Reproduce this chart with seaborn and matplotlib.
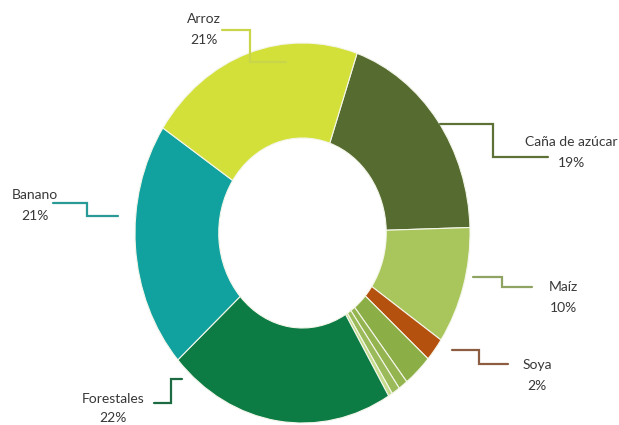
import matplotlib.pyplot as plt
import seaborn as sns

# --- Données ---
cultivos = ["Caña de azúcar", "Maíz", "Soya", "Otro 1", "Otro 2", "Otro 3", "Otro 4",
            "Forestales", "Banano", "Arroz"]
porcentajes = [19.3, 10, 2, 2.8, 0.9, 0.8, 0.4, 22, 21, 21]
colores = ["#566b30", "#a9c65c", "#b4510f", "#8cae47", "#93b44f", "#9bba59", "#c4dc8c",
           "#0c7b44", "#11a2a0", "#d4e03a"]
etiquetas = ["Arroz", "Caña de azúcar", "Banano", "Maíz", "Soya", "Forestales"]
etiquetas_pct = ["21%", "19%", "21%", "10%", "2%", "22%"]

W, H = 619, 425
CX, CY, RX, RY = 302.5, 233, 167.5, 190

sns.set_theme(style="white")
plt.rcParams["font.family"] = ["Lato", "DejaVu Sans"]

fig = plt.figure(figsize=(W / 100, H / 100), dpi=100)
ax = fig.add_axes([0, 0, 1, 1])

ax.pie(
    porcentajes, colors=sns.color_palette(colores), startangle=71, counterclock=False,
    radius=1, wedgeprops=dict(width=0.5, edgecolor="#f4f6ea", linewidth=0.8),
)
ax.set_aspect("auto")
ax.set_xlim(-CX / RX, (W - CX) / RX)
ax.set_ylim((CY - H) / RY, CY / RY)
ax.axis("off")


def fx(x):
    return x / W


def fy(y):
    return 1 - y / H


# --- Lignes de rappel et étiquettes (pixels) ---
lignes = [
    ([222, 250, 250, 286], [30, 30, 62, 62], "#c9d64a"),
    ([440, 493, 493, 548], [124, 124, 157, 157], "#5e7238"),
    ([53, 87, 87, 118], [203, 203, 216, 216], "#2a9a96"),
    ([473, 502, 502, 532], [277, 277, 287, 287], "#8fa463"),
    ([452, 479, 479, 508], [350, 350, 364, 364], "#8c5d40"),
    ([154, 171, 171, 182], [403, 403, 379, 379], "#1d6b42"),
]
for xs, ys, c in lignes:
    ax.plot([fx(x) for x in xs], [fy(y) for y in ys], color=c, lw=1.6,
            transform=fig.transFigure, clip_on=False, solid_joinstyle="miter")

positions = [(204, 19), (571, 142), (35, 195), (563, 287), (537, 365), (113, 399)]
for (x, y), nom, pct in zip(positions, etiquetas, etiquetas_pct):
    fig.text(fx(x), fy(y), nom, ha="center", va="center", fontsize=10, color="#383838")
    fig.text(fx(x), fy(y + 19 if nom == "Forestales" else y + 21), pct,
             ha="center", va="center", fontsize=10, color="#383838")

fig.savefig("out.png", dpi=100)
